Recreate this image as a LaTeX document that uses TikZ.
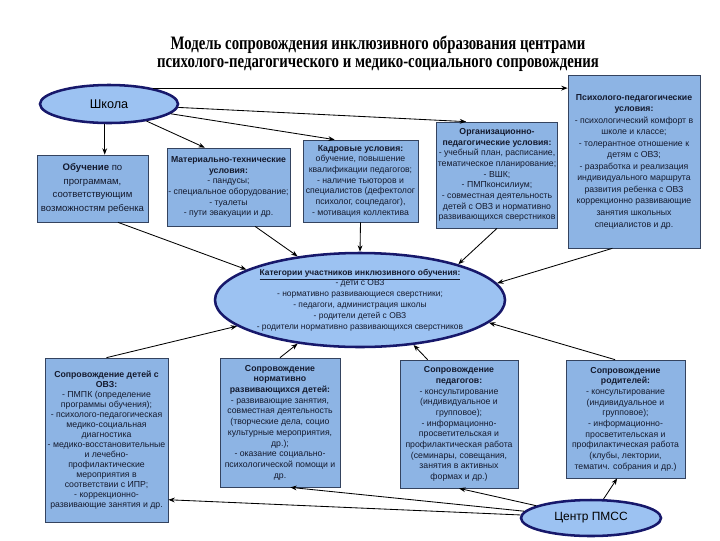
\documentclass[tikz,border=0pt]{standalone}
\usepackage{fontspec}
\setmainfont{Liberation Sans}
\newfontfamily\titlefont[FakeStretch=0.78]{Liberation Serif}
\usepackage{xcolor}
\definecolor{cBox}{HTML}{8DB4E4}
\definecolor{cEll}{HTML}{9CC2F2}
\definecolor{cNavy}{HTML}{17186B}
\definecolor{cEdge}{HTML}{34435F}
\definecolor{cText}{HTML}{141A2E}
\usepackage{tikz}
\usetikzlibrary{positioning,arrows.meta,shapes.geometric}
\newcommand{\pu}{0.025cm}
\tikzset{
  node-box/.style={draw=cEdge,fill=cBox,line width=0.5pt,inner sep=1pt,
    align=center,text=cText,font=\fontsize{6.2}{7.6}\selectfont},
  node-ell/.style={ellipse,draw=cNavy,line width=1.8pt,fill=cEll,inner sep=0pt},
  arrow/.style={-{Stealth[length=1.6mm,width=1.2mm]},line width=0.6pt,draw=black},
}

\begin{document}
\begin{tikzpicture}[x=0.025cm,y=-0.025cm]
  \useasboundingbox[fill=white] (0,0) rectangle (720,540);
  \node[font=\titlefont\bfseries\fontsize{13.5}{13}\selectfont,align=center] (title) at (378,54)
    {Модель сопровождения инклюзивного образования центрами\\
     психолого-педагогического и медико-социального сопровождения};

  % верхний ряд
  \node[node-ell,minimum width=138*\pu,minimum height=38*\pu,font=\fontsize{9}{10}\selectfont] (school) at (109,104) {Школа};
  \node[node-box,minimum width=111*\pu,minimum height=67*\pu,font=\fontsize{6.8}{9.5}\selectfont] (obuch) at (92.5,188.5)
    {\textbf{Обучение} по\\программам,\\соответствующим\\возможностям ребенка};
  \node[node-box,minimum width=123*\pu,minimum height=78*\pu] (mat) at (228.5,187)
    {\textbf{Материально-технические}\\\textbf{условия:}\\- пандусы;\\- специальное оборудование;\\- туалеты\\- пути эвакуации и др.};
  \node[node-box,minimum width=115*\pu,minimum height=82*\pu] (kadr) at (360.5,181)
    {\textbf{Кадровые условия:}\\обучение, повышение\\квалификации педагогов;\\- наличие тьюторов и\\специалистов (дефектолог\\психолог, соцпедагог),\\- мотивация коллектива};
  \node[node-box,minimum width=120*\pu,minimum height=106*\pu] (org) at (497,175)
    {\textbf{Организационно-}\\\textbf{педагогические условия:}\\- учебный план, расписание,\\тематическое планирование;\\- ВШК;\\- ПМПконсилиум;\\- совместная деятельность\\детей с ОВЗ и нормативно\\развивающихся сверстников};
  \node[node-box,minimum width=132*\pu,minimum height=173*\pu,font=\fontsize{6.2}{8.2}\selectfont] (psy) at (634,161.5)
    {\textbf{Психолого-педагогические}\\\textbf{условия:}\\- психологический комфорт в\\школе и классе;\\- толерантное отношение к\\детям с ОВЗ;\\- разработка и реализация\\индивидуального маршрута\\развития ребенка с ОВЗ\\коррекционно развивающие\\занятия школьных\\специалистов и др.};

  % центр
  \node[node-ell,minimum width=290*\pu,minimum height=94*\pu] (cat) at (360,300) {};
  \node[align=center,text=cText,font=\fontsize{6}{7.7}\selectfont] (cattext) at (cat)
    {\underline{\textbf{Категории участников инклюзивного обучения:}}\\- дети с ОВЗ\\- нормативно развивающиеся сверстники;\\- педагоги, администрация школы\\- родители детей с ОВЗ\\- родители нормативно развивающихся сверстников};

  % нижний ряд
  \node[node-box,minimum width=123*\pu,minimum height=164*\pu,font=\fontsize{6.2}{7.1}\selectfont] (deti) at (106.5,440)
    {\textbf{Сопровождение детей с}\\\textbf{ОВЗ:}\\- ПМПК (определение\\программы обучения);\\- психолого-педагогическая\\медико-социальная\\диагностика\\- медико-восстановительные\\и лечебно-\\профилактические\\мероприятия в\\соответствии с ИПР;\\- коррекционно-\\развивающие занятия и др.};
  \node[node-box,minimum width=120*\pu,minimum height=129*\pu] (norm) at (280,422.5)
    {\textbf{Сопровождение}\\\textbf{нормативно}\\\textbf{развивающихся детей:}\\- развивающие занятия,\\совместная деятельность\\(творческие дела, социо\\культурные мероприятия,\\др.);\\- оказание социально-\\психологической помощи и\\др.};
  \node[node-box,minimum width=118*\pu,minimum height=128*\pu] (ped) at (459,424)
    {\textbf{Сопровождение}\\\textbf{педагогов:}\\- консультирование\\(индивидуальное и\\групповое);\\- информационно-\\просветительская и\\профилактическая работа\\(семинары, совещания,\\занятия в активных\\формах и др.)};
  \node[node-box,minimum width=119*\pu,minimum height=118*\pu] (rod) at (625.5,419)
    {\textbf{Сопровождение}\\\textbf{родителей:}\\- консультирование\\(индивидуальное и\\групповое);\\- информационно-\\просветительская и\\профилактическая работа\\(клубы, лектории,\\тематич. собрания и др.)};
  \node[node-ell,minimum width=140*\pu,minimum height=36*\pu,font=\fontsize{8.5}{10}\selectfont] (centr) at (591,518) {Центр ПМСС};

  % стрелки от школы
  \draw[arrow] (school.258) -- (school.258 |- obuch.north);
  \draw[arrow] (school) -- (mat.121);
  \draw[arrow] (school) -- (kadr.122);
  \draw[arrow] (school) -- (org.120);
  \draw[arrow] (school.20) -- (school.20 -| psy.west);
  % к категориям
  \draw[arrow] (obuch.-53) -- (cat.165);
  \draw[arrow] (mat.-56) -- (cat.145);
  \draw[arrow] (kadr.south) -- (cat.north);
  \draw[arrow] (org.south) -- (cat.20);
  \draw[arrow] (psy.-104) -- (cat.7);
  \draw[arrow] (deti.north) -- (cat.192);
  \draw[arrow] (norm.north) -- (cat.215);
  \draw[arrow] (ped.116) -- (cat.-40);
  \draw[arrow] (rod.100) -- (cat.-10);
  % от центра ПМСС
  \draw[arrow] (centr) -- (deti.-44);
  \draw[arrow] (centr) -- (norm.-81);
  \draw[arrow] (centr) -- (ped.south);
  \draw[arrow] (centr) -- (rod.-98);
\end{tikzpicture}
\end{document}
